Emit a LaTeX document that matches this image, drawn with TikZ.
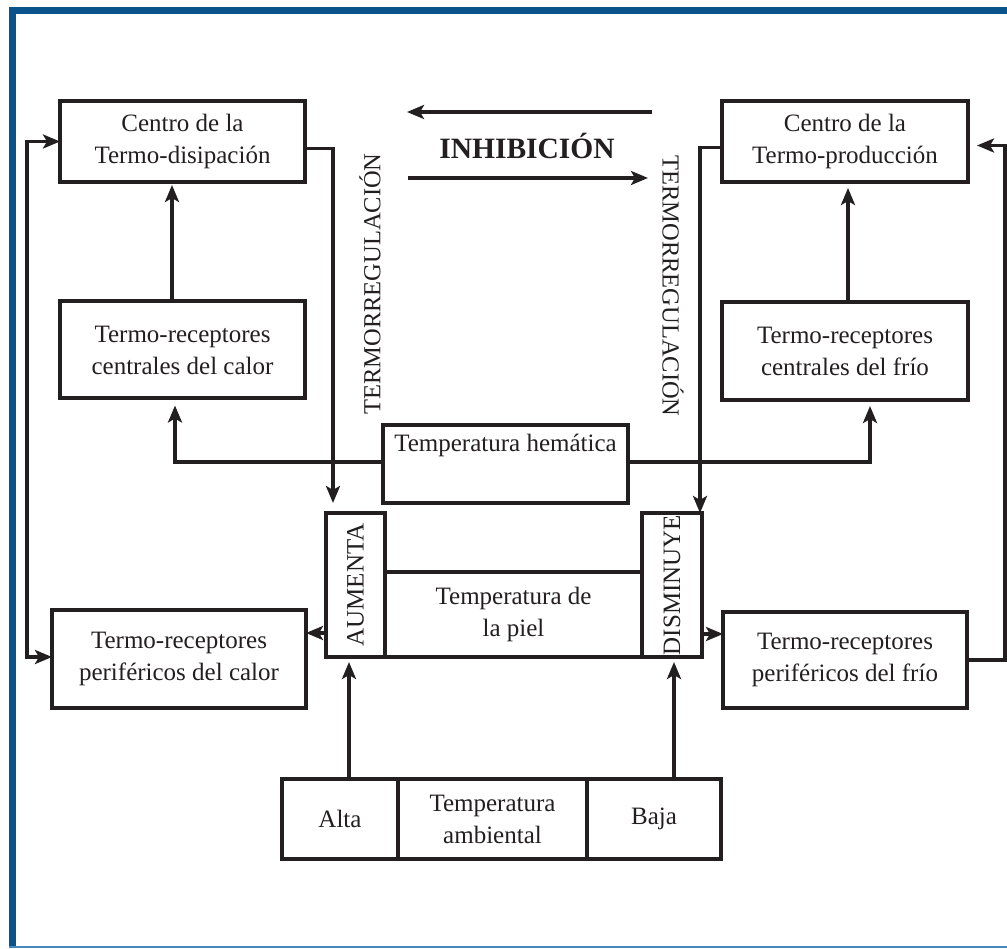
\documentclass[tikz,border=0pt]{standalone}
\usepackage{fontspec}
\setmainfont{Liberation Serif}
\usetikzlibrary{arrows.meta,calc}
\definecolor{ink}{RGB}{35,31,32}
\definecolor{frameblue}{RGB}{10,84,140}
\definecolor{framelight}{RGB}{70,135,190}
\begin{document}
\begin{tikzpicture}[x=1pt,y=-1pt,
  box/.style={draw=ink, line width=4pt, inner sep=0pt, outer sep=0pt, align=center, text=ink,
    font=\fontsize{25}{32}\selectfont},
  arr/.style={draw=ink, line width=3.5pt, -{Stealth[length=17pt,width=14pt,inset=4pt]}},
  arrboth/.style={draw=ink, line width=3.5pt, {Stealth[length=17pt,width=14pt,inset=4pt]}-{Stealth[length=17pt,width=14pt,inset=4pt]}},
  lbl/.style={text=ink, font=\fontsize{24.5}{32}\selectfont, inner sep=0pt}]
\useasboundingbox (0,0) rectangle (1007,949);
\fill[white] (0,0) rectangle (1007,949);
% frame
\fill[frameblue] (9,7) rectangle (1007,14);
\fill[frameblue] (9,7) rectangle (16,948);
\draw[framelight, line width=2pt] (9,947) -- (1007,947);

% boxes
\node[box, minimum width=245pt, minimum height=81pt] (cd) at (182.5,141.5) {Centro de la\\Termo-disipación};
\node[box, minimum width=246pt, minimum height=81pt] (cp) at (845,141.5) {Centro de la\\Termo-producción};
\node[box, minimum width=245pt, minimum height=97pt] (cc) at (182.5,350) {Termo-receptores\\centrales del calor};
\node[box, minimum width=246pt, minimum height=98pt] (cf) at (845,351) {Termo-receptores\\centrales del frío};
\node[box, minimum width=254pt, minimum height=98pt] (pc) at (179,659) {Termo-receptores\\periféricos del calor};
\node[box, minimum width=244pt, minimum height=96pt] (pf) at (845,660) {Termo-receptores\\periféricos del frío};
\node[box, minimum width=245pt, minimum height=78pt] (hem) at (505.5,464) {Temperatura hemática\\\strut};
\node[box, minimum width=59pt, minimum height=144pt] (aum) at (355.5,585) {\rotatebox{90}{AUMENTA}};
\node[box, minimum width=257pt, minimum height=85pt] (piel) at (513.5,614.5) {Temperatura de\\la piel};
\node[box, minimum width=60pt, minimum height=144pt] (dis) at (672,585) {\rotatebox{90}{DISMINUYE}};
\node[box, minimum width=116pt, minimum height=80pt] (alta) at (340,819) {Alta};
\node[box, minimum width=189pt, minimum height=80pt] (amb) at (492.5,819) {Temperatura\\ambiental};
\node[box, minimum width=134pt, minimum height=80pt] (baja) at (654,819) {Baja};

% labels
\node[lbl, rotate=90] (tl) at (370,284) {TERMORREGULACIÓN};
\node[lbl, rotate=-90] (tr) at (673,286) {TERMORREGULACIÓN};
\node[lbl, font=\fontsize{29.5}{34}\selectfont\bfseries] (inh) at (527,146) {INHIBICIÓN};
\coordinate (i1s) at (652,112);
\coordinate (i1e) at (407,112);
\coordinate (i2s) at (408,178);
\coordinate (i2e) at (648,178);
\draw[arr] (i1s) -- (i1e);
\draw[arr] (i2s) -- (i2e);

% connectors
\draw[arr] ([xshift=-10.5pt]cc.north) -- ([xshift=-10.5pt,yshift=-3pt]cd.south);
\draw[arr] ([xshift=3pt]cf.north) -- ([xshift=3pt,yshift=-6pt]cp.south);
\draw[arr] ([yshift=-7pt]cd.east) -| ([xshift=-22.5pt,yshift=10pt]aum.north);
\draw[arr] ([yshift=-6pt]cp.west) -| ([xshift=28pt]dis.north);
\draw[arr] ([yshift=2pt]hem.west) -| ([xshift=-7.5pt,yshift=-7pt]cc.south);
\draw[arr] ([yshift=2pt]hem.east) -| ([xshift=25pt,yshift=-6pt]cf.south);
\draw[arr] ([yshift=-48pt]aum.west) -- ([yshift=-48pt]aum.west -| pc.east);
\draw[arr] ([yshift=-49pt]dis.east) -- ([yshift=-49pt]dis.east -| pf.west);
\draw[arrboth] ([yshift=2pt]pc.west) -- ++(-25,0) |- (cd.west);
\draw[arr] (pf.east) -- ++(38,0) |- ([xshift=9pt,yshift=-4pt]cp.east);
\draw[arr] ([xshift=9pt]alta.north) -- ([xshift=-6.5pt,yshift=-5pt]aum.south);
\draw[arr] ([xshift=20pt]baja.north) -- ([xshift=2pt,yshift=-5pt]dis.south);
\end{tikzpicture}
\end{document}
